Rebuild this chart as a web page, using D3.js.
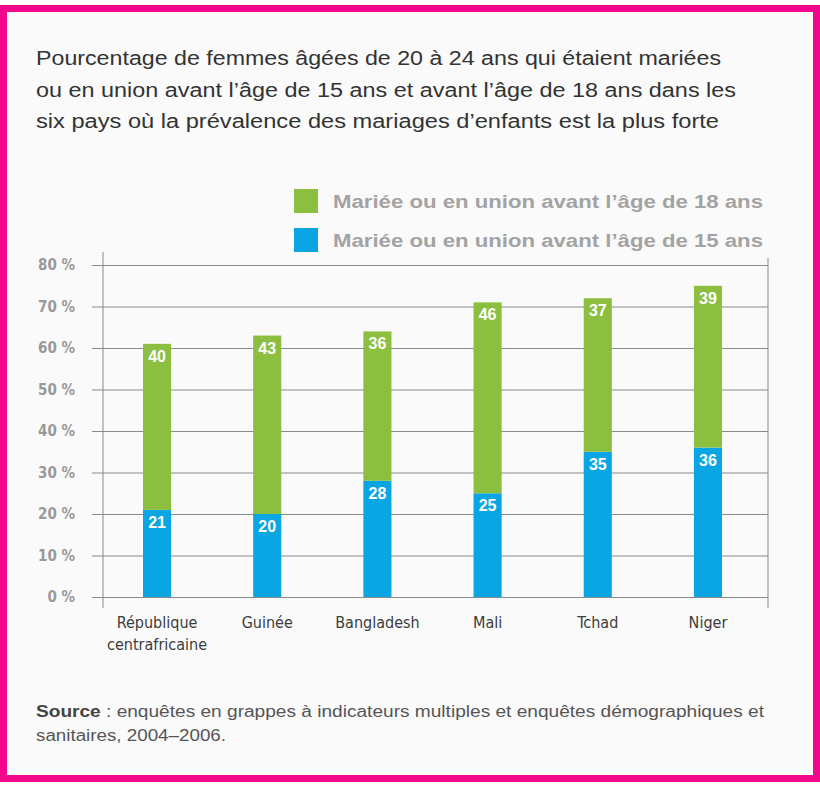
<!DOCTYPE html>
<html>
<head>
<meta charset="utf-8">
<script src="https://cdn.jsdelivr.net/npm/d3@7"></script>
<style>
  body { margin: 0; background: #fff; }
  svg { display: block; }
</style>
</head>
<body>
<div id="chart"></div>
<script>
// données
const pays = ["République centrafricaine", "Guinée", "Bangladesh", "Mali", "Tchad", "Niger"];
const avant15 = [21, 20, 28, 25, 35, 36];
const entre15et18 = [40, 43, 36, 46, 37, 39];
const yTicks = [0, 10, 20, 30, 40, 50, 60, 70, 80];
const legende = ["Mariée ou en union avant l’âge de 18 ans", "Mariée ou en union avant l’âge de 15 ans"];
const titre = [
  "Pourcentage de femmes âgées de 20 à 24 ans qui étaient mariées",
  "ou en union avant l’âge de 15 ans et avant l’âge de 18 ans dans les",
  "six pays où la prévalence des mariages d’enfants est la plus forte"
];

const w = 820, h = 787;
const colBleu = "#0aa6e3", colVert = "#8cbf3f", colGrille = "#8a8a8a";
const sans = "'Liberation Sans', Arial, sans-serif";
const narrow = "'DejaVu Sans Condensed', 'Liberation Sans Narrow', sans-serif";

const svg = d3.select("#chart").append("svg").attr("width", w).attr("height", h);

// cadre rose
svg.append("rect").attr("x", 3.5).attr("y", 8.5).attr("width", 813).attr("height", 770)
  .attr("fill", "#fafafa").attr("stroke", "#f0078c").attr("stroke-width", 7);

// titre (largeurs de ligne calées sur l'original)
const largeursTitre = [685, 700, 683];
svg.append("g").selectAll("text")
  .data(titre)
  .join("text")
  .attr("x", 36)
  .attr("y", (d, i) => 65 + i * 31.5)
  .attr("font-family", sans)
  .attr("font-size", 20)
  .attr("fill", "#333")
  .attr("textLength", (d, i) => largeursTitre[i])
  .attr("lengthAdjust", "spacingAndGlyphs")
  .text(d => d);

// légende
const leg = svg.append("g").selectAll("g")
  .data(legende)
  .join("g")
  .attr("transform", (d, i) => `translate(294,${189 + i * 39})`);
leg.append("rect").attr("width", 24).attr("height", 24)
  .attr("fill", (d, i) => i === 0 ? colVert : colBleu);
leg.append("text")
  .attr("x", 39).attr("y", 19)
  .attr("font-family", sans)
  .attr("font-weight", "bold")
  .attr("font-size", 19)
  .attr("fill", "#a3a3a3")
  .attr("textLength", 430)
  .attr("lengthAdjust", "spacingAndGlyphs")
  .text(d => d);

// échelles
const x = d3.scaleBand().domain(pays).range([102, 763]).paddingInner(0.745).paddingOuter(0.372);
const y = d3.scaleLinear().domain([0, 80]).range([597, 265]);

const data = pays.map((p, i) => ({pays: p, avant15: avant15[i], entre15et18: entre15et18[i]}));
const series = d3.stack().keys(["avant15", "entre15et18"])(data);

// grille + axe
const gy = svg.append("g").attr("transform", "translate(103,0)")
  .call(d3.axisLeft(y).tickValues(yTicks).tickSize(-665).tickSizeOuter(0).tickPadding(28).tickFormat(d => d + " %"));
gy.select(".domain").remove();
gy.selectAll(".tick line").attr("stroke", colGrille).attr("x1", -11);
gy.selectAll(".tick text")
  .attr("font-family", narrow)
  .attr("font-weight", "bold")
  .attr("font-size", 15)
  .attr("fill", "#999");

svg.append("line").attr("x1", 103).attr("x2", 103).attr("y1", 252).attr("y2", 608).attr("stroke", colGrille);
svg.append("line").attr("x1", 768).attr("x2", 768).attr("y1", 258).attr("y2", 608).attr("stroke", colGrille);

// barres
const groupes = svg.append("g").selectAll("g")
  .data(series)
  .join("g")
  .attr("fill", d => d.key === "avant15" ? colBleu : colVert);

groupes.selectAll("rect")
  .data(d => d)
  .join("rect")
  .attr("x", d => x(d.data.pays))
  .attr("y", d => y(d[1]))
  .attr("width", x.bandwidth())
  .attr("height", d => y(d[0]) - y(d[1]));

groupes.selectAll("text")
  .data(d => d.map(v => ({v, key: d.key})))
  .join("text")
  .attr("x", d => x(d.v.data.pays) + x.bandwidth() / 2)
  .attr("y", d => y(d.v[1]) + 18)
  .attr("text-anchor", "middle")
  .attr("font-family", sans)
  .attr("font-weight", "bold")
  .attr("font-size", 16)
  .attr("fill", "#fff")
  .text(d => d.v.data[d.key]);

// étiquettes des pays
const gx = svg.append("g").attr("transform", "translate(0,597)")
  .call(d3.axisBottom(x).tickSize(0).tickPadding(0));
gx.select(".domain").remove();
gx.selectAll(".tick text").remove();
gx.selectAll(".tick").append("text")
  .attr("text-anchor", "middle")
  .attr("font-family", narrow)
  .attr("font-size", 16)
  .attr("fill", "#3c3c3c")
  .selectAll("tspan")
  .data(d => d === "République centrafricaine" ? ["République", "centrafricaine"] : [d])
  .join("tspan")
  .attr("x", 0)
  .attr("y", (d, i) => 31 + i * 22)
  .text(d => d);

// source
const src = svg.append("text").attr("x", 36).attr("y", 717)
  .attr("font-family", sans)
  .attr("font-size", 16).attr("fill", "#555")
  .attr("textLength", 728)
  .attr("lengthAdjust", "spacingAndGlyphs");
src.append("tspan").attr("font-weight", "bold").attr("fill", "#444").text("Source");
src.append("tspan").text(" : enquêtes en grappes à indicateurs multiples et enquêtes démographiques et");
svg.append("text").attr("x", 36).attr("y", 741)
  .attr("font-family", sans)
  .attr("font-size", 16).attr("fill", "#555")
  .attr("textLength", 190)
  .attr("lengthAdjust", "spacingAndGlyphs")
  .text("sanitaires, 2004–2006.");
</script>
</body>
</html>
